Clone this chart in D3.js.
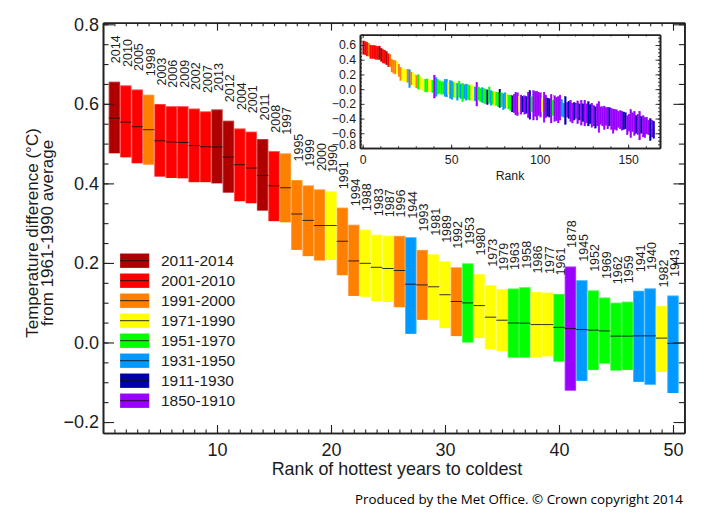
<!DOCTYPE html>
<html>
<head>
<meta charset="utf-8">
<script src="https://cdn.jsdelivr.net/npm/d3@7"></script>
<style>
  html, body { margin: 0; padding: 0; background: #fff; }
  svg { display: block; }
  text { font-family: "Liberation Sans", Arial, sans-serif; fill: #1c1c1c; }
  .domain, .tick line { stroke: #222; }
</style>
</head>
<body>
<svg id="chart" width="725" height="525"></svg>
<script>
// hottest 50 years, rank order
const years = [2014,2010,2005,1998,2003,2006,2009,2002,2007,2013,
  2012,2004,2001,2011,2008,1997,1995,1999,2000,1990,
  1991,1994,1988,1983,1987,1996,1944,1993,1981,1989,
  1992,1953,1980,1973,1979,1963,1958,1986,1977,1961,
  1878,1945,1952,1969,1962,1959,1941,1940,1982,1943];
const medians = [.564,.554,.5425,.535,.507,.504,.503,.495,.492,.4915,
  .466,.447,.4387,.420,.394,.389,.323,.307,.294,.294,
  .2545,.205,.199,.189,.186,.181,.1465,.1447,.140,.120,
  .103,.0995,.0927,.0636,.056,.049,.0485,.045,.045,.038,
  .035,.0325,.031,.029,.016,.016,.0166,.0166,.011,-.002];
const uppers = [.6556,.6464,.636,.623,.5995,.594,.594,.588,.581,.586,
  .5576,.538,.530,.5116,.481,.4756,.4085,.395,.385,.380,
  .339,.296,.2837,.271,.2686,.268,.2646,.2327,.222,.204,
  .189,.199,.172,.144,.134,.1355,.139,.127,.1255,.122,
  .191,.1565,.131,.113,.100,.1025,.130,.136,.092,.118];
const lowers = [.4756,.4655,.4505,.447,.417,.4136,.4127,.403,.403,.400,
  .3767,.355,.350,.3315,.305,.302,.2327,.217,.206,.2075,
  .169,.117,.115,.104,.102,.0887,.0216,.0568,.056,.036,
  .016,0,.011,-.017,-.022,-.038,-.038,-.038,-.035,-.048,
  -.121,-.0965,-.069,-.053,-.0706,-.069,-.099,-.106,-.074,-.127];

// the rest of the inset, ranks 51-165
const insetUppers = [.11,.09,.10,.08,.11,.07,.08,.06,.07,.06,
  .05,.06,.04,.03,.09,.03,.01,.02,.01,.00,
  -.01,.03,-.02,-.03,-.03,-.04,-.04,.00,-.05,-.06,
  -.05,-.06,-.08,-.08,-.09,-.07,-.05,-.05,-.10,-.08,
  -.10,-.09,-.10,-.04,-.02,-.10,-.02,-.03,-.03,-.05,
  -.05,-.13,-.04,-.08,-.12,-.13,-.07,-.15,-.09,-.11,
  -.10,-.08,-.14,-.19,-.10,-.18,-.17,-.15,-.19,-.18,
  -.19,-.16,-.20,-.15,-.20,-.15,-.20,-.17,-.21,-.19,
  -.22,-.24,-.20,-.17,-.24,-.24,-.23,-.25,-.25,-.25,
  -.26,-.27,-.28,-.28,-.30,-.29,-.30,-.31,-.32,-.36,
  -.34,-.28,-.32,-.30,-.36,-.34,-.30,-.37,-.36,-.39,
  -.38,-.42,-.40,-.42,-.44];
const insetLowers = [-.14,-.11,-.12,-.15,-.11,-.13,-.17,-.13,-.15,-.14,
  -.15,-.14,-.16,-.16,-.23,-.15,-.17,-.18,-.19,-.20,
  -.21,-.19,-.22,-.21,-.23,-.22,-.24,-.25,-.24,-.28,
  -.26,-.25,-.27,-.29,-.31,-.32,-.35,-.36,-.30,-.34,
  -.31,-.34,-.33,-.39,-.41,-.31,-.42,-.37,-.42,-.36,
  -.38,-.31,-.45,-.39,-.37,-.38,-.46,-.36,-.44,-.43,
  -.46,-.42,-.37,-.38,-.48,-.38,-.40,-.44,-.46,-.42,
  -.40,-.47,-.42,-.49,-.44,-.50,-.46,-.50,-.47,-.52,
  -.50,-.53,-.50,-.59,-.48,-.50,-.55,-.49,-.54,-.50,
  -.55,-.60,-.55,-.56,-.52,-.54,-.56,-.55,-.54,-.62,
  -.57,-.66,-.58,-.63,-.60,-.62,-.69,-.60,-.65,-.66,
  -.61,-.62,-.70,-.65,-.67];
// index into periods below
const insetPeriods = [5,4,3,5,4,5,4,5,5,4,
  4,3,3,5,7,4,4,5,4,4,
  6,4,5,4,3,4,4,6,4,5,
  5,3,4,4,6,7,7,7,3,7,
  6,7,6,7,6,4,7,7,7,7,
  7,3,7,7,6,6,7,4,7,7,
  7,7,5,5,6,7,6,7,7,6,
  7,7,6,7,6,7,7,6,6,7,
  7,6,7,7,7,7,7,7,7,6,
  7,7,7,7,7,7,7,6,6,7,
  7,7,7,7,6,7,7,6,7,7,
  7,7,6,7,6];

const periods = ['2011-2014','2001-2010','1991-2000','1971-1990','1951-1970','1931-1950','1911-1930','1850-1910'];
const periodColours = ['#ae0000','#ff0000','#ff8000','#ffff00','#00ff00','#0099ff','#0000aa','#9900ff'];
const periodStarts = [2011,2001,1991,1971,1951,1931,1911,1850];

const yTickLabels = [-0.2,0,0.2,0.4,0.6,0.8];
const xTickLabels = [10,20,30,40,50];
const insetYLabels = [-0.8,-0.6,-0.4,-0.2,0,0.2,0.4,0.6];
const insetXLabels = [0,50,100,150];

const svg = d3.select('#chart');

const periodOfYear = year => periodStarts.findIndex(s => year >= s);

const x = d3.scaleLinear().domain([0, 51]).range([103, 684.4]);
const y = d3.scaleLinear().domain([-0.2276, 0.804]).range([433, 22.7]);

// bars
const mainData = years.map((year, i) => ({
  rank: i + 1, year: year, median: medians[i], upper: uppers[i], lower: lowers[i],
  colour: periodColours[periodOfYear(year)]
}));

const bars = svg.append('g');
bars.selectAll('rect').data(mainData).join('rect')
  .attr('x', d => x(d.rank - 0.5))
  .attr('width', d => x(d.rank + 0.5) - x(d.rank - 0.5))
  .attr('y', d => y(d.upper))
  .attr('height', d => y(d.lower) - y(d.upper))
  .attr('fill', d => d.colour);
// pale edge round each bar
bars.selectAll('path').data(mainData).join('path')
  .attr('d', d => `M${x(d.rank - 0.5) + 0.4},${y(d.lower)}V${y(d.upper) + 0.4}H${x(d.rank + 0.5) - 0.4}V${y(d.lower)}`)
  .attr('fill', 'none').attr('stroke', '#fff').attr('stroke-opacity', 0.3).attr('stroke-width', 0.8);
bars.selectAll('line').data(mainData).join('line')
  .attr('x1', d => x(d.rank - 0.5))
  .attr('x2', d => x(d.rank + 0.5))
  .attr('y1', d => y(d.median))
  .attr('y2', d => y(d.median))
  .attr('stroke', '#111').attr('stroke-opacity', 0.85).attr('stroke-width', 1);

// year labels sit a fixed gap above each bar
svg.append('g').selectAll('text').data(mainData).join('text')
  .attr('transform', d => `translate(${x(d.rank) + 6},${y(d.upper) - 18.5}) rotate(-90)`)
  .style('font-size', '12.5px')
  .text(d => d.year);

// axes
function boxAxes(g, xs, ys, o) {
  const bottom = ys.range()[0], top = ys.range()[1], left = xs.range()[0], right = xs.range()[1];
  const minorX = d3.range(o.xMinorFrom, xs.domain()[1] + 0.001, o.xMinorStep);
  const minorY = d3.range(o.yMinorFrom, ys.domain()[1] + 0.001, 0.05);

  g.append('g').attr('transform', `translate(0,${bottom})`)
    .call(d3.axisBottom(xs).tickValues(minorX).tickSize(-o.xMinor).tickSizeOuter(0).tickFormat(''));
  g.append('g').attr('transform', `translate(0,${top})`)
    .call(d3.axisTop(xs).tickValues(minorX).tickSize(-o.xMinor).tickSizeOuter(0).tickFormat(''));
  g.append('g').attr('transform', `translate(${left},0)`)
    .call(d3.axisLeft(ys).tickValues(minorY).tickSize(-o.yMinor).tickSizeOuter(0).tickFormat(''));
  g.append('g').attr('transform', `translate(${right},0)`)
    .call(d3.axisRight(ys).tickValues(minorY).tickSize(-o.yMinor).tickSizeOuter(0).tickFormat(''));

  g.append('g').attr('class', 'x-labels').attr('transform', `translate(0,${bottom})`)
    .call(d3.axisBottom(xs).tickValues(o.xLabels).tickSize(-o.xMajor).tickSizeOuter(0).tickPadding(o.xPad).tickFormat(d3.format('d')));
  g.append('g').attr('transform', `translate(0,${top})`)
    .call(d3.axisTop(xs).tickValues(o.xLabels).tickSize(-o.xMajor).tickSizeOuter(0).tickFormat(''));
  g.append('g').attr('class', 'y-labels').attr('transform', `translate(${left},0)`)
    .call(d3.axisLeft(ys).tickValues(o.yLabels).tickSize(-o.yMajor).tickSizeOuter(0).tickPadding(o.yPad).tickFormat(d3.format('.1f')));
  g.append('g').attr('transform', `translate(${right},0)`)
    .call(d3.axisRight(ys).tickValues(o.yLabels).tickSize(-o.yMajor).tickSizeOuter(0).tickFormat(''));

  g.selectAll('.domain').attr('stroke-width', o.frame);
  g.selectAll('.tick line').attr('stroke-width', o.tick);
  g.selectAll('.tick text').style('font-size', o.font + 'px').style('font-family', '"Liberation Sans", Arial, sans-serif').attr('fill', '#1c1c1c');
}

const mainAxes = svg.append('g');
boxAxes(mainAxes, x, y, {
  xMinorFrom: 1, xMinorStep: 1, yMinorFrom: -0.2,
  xMinor: 3.5, xMajor: 8, yMinor: 5.5, yMajor: 11,
  xLabels: xTickLabels, yLabels: yTickLabels, xPad: 10, yPad: 4,
  frame: 1.6, tick: 1.1, font: 18
});

svg.append('text')
  .attr('x', 397).attr('y', 475)
  .attr('text-anchor', 'middle')
  .style('font-size', '17.9px')
  .text('Rank of hottest years to coldest');

svg.append('text')
  .attr('transform', 'translate(38,233) rotate(-90)')
  .attr('text-anchor', 'middle')
  .style('font-size', '17px')
  .text('Temperature difference (°C)');
svg.append('text')
  .attr('transform', 'translate(53,233) rotate(-90)')
  .attr('text-anchor', 'middle')
  .style('font-size', '17px')
  .text('from 1961-1990 average');

// legend
const legendY = d3.scalePoint().domain(periods).range([260.7, 400.7]);
const legend = svg.append('g').selectAll('g').data(periods).join('g')
  .attr('transform', d => `translate(120,${legendY(d)})`);
legend.append('rect')
  .attr('y', -7.3).attr('width', 29.3).attr('height', 14.6)
  .attr('fill', (d, i) => periodColours[i])
  .attr('stroke', '#fff').attr('stroke-opacity', 0.3).attr('stroke-width', 0.8);
legend.append('line')
  .attr('x2', 29.3)
  .attr('stroke', '#111').attr('stroke-opacity', 0.85).attr('stroke-width', 1);
legend.append('text')
  .attr('x', 41).attr('dy', '0.36em')
  .style('font-size', '15.5px')
  .text(d => d);

// inset, all 165 years
const ix = d3.scaleLinear().domain([-1.5, 168]).range([360, 660]);
const iy = d3.scaleLinear().domain([-0.8, 0.74]).range([148, 34.7]);

const insetData = mainData.map(d => ({ rank: d.rank, upper: d.upper, lower: d.lower, colour: d.colour }))
  .concat(insetUppers.map((u, i) => ({
    rank: i + 51, upper: u, lower: insetLowers[i], colour: periodColours[insetPeriods[i]]
  })));

const inset = svg.append('g');
inset.append('g').selectAll('rect').data(insetData).join('rect')
  .attr('x', d => ix(d.rank - 1))
  .attr('width', d => ix(d.rank) - ix(d.rank - 1))
  .attr('y', d => iy(d.upper))
  .attr('height', d => iy(d.lower) - iy(d.upper))
  .attr('fill', d => d.colour)
  .attr('stroke', d => d.colour).attr('stroke-width', 0.3);

boxAxes(inset, ix, iy, {
  xMinorFrom: 0, xMinorStep: 10, yMinorFrom: -0.8,
  xMinor: 1.8, xMajor: 3.5, yMinor: 2, yMajor: 4.5,
  xLabels: insetXLabels, yLabels: insetYLabels, xPad: 7, yPad: 4,
  frame: 1.6, tick: 0.9, font: 12.3
});
// bottom label is pushed up clear of the corner, as in the original
inset.select('.y-labels').selectAll('.tick text').filter(d => d === -0.8).attr('y', -3);

svg.append('text')
  .attr('x', 510).attr('y', 179.5)
  .attr('text-anchor', 'middle')
  .style('font-size', '12.3px')
  .text('Rank');

svg.append('text')
  .attr('x', 355).attr('y', 504)
  .attr('textLength', 328).attr('lengthAdjust', 'spacingAndGlyphs')
  .style('font-family', '"Open Sans", sans-serif')
  .style('font-size', '13.5px')
  .style('fill', '#000')
  .text('Produced by the Met Office. © Crown copyright 2014');
</script>
</body>
</html>
